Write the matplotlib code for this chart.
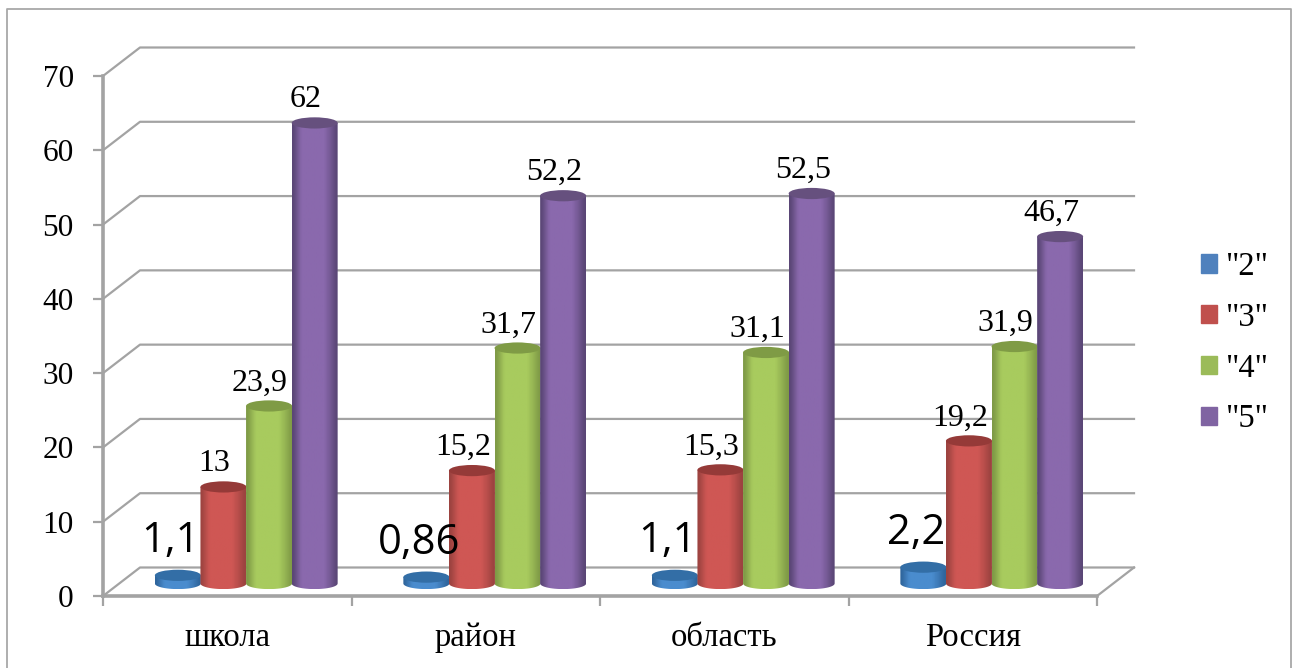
import numpy as np
import matplotlib
matplotlib.use("Agg")
import matplotlib.pyplot as plt
from matplotlib.colors import LinearSegmentedColormap
from matplotlib.patches import Ellipse, Patch, PathPatch
from matplotlib.lines import Line2D
from matplotlib.path import Path

categories = ["школа", "район", "область", "Россия"]
series_names = ['"2"', '"3"', '"4"', '"5"']
grade_2 = [1.1, 0.86, 1.1, 2.2]
grade_3 = [13, 15.2, 15.3, 19.2]
grade_4 = [23.9, 31.7, 31.1, 31.9]
grade_5 = [62, 52.2, 52.5, 46.7]
y_ticks = [0, 10, 20, 30, 40, 50, 60, 70]

# flat colour, then dark edge / lit middle / top cap of each cylinder
legend_colors = ["#4f81bd", "#c0504d", "#9bbb59", "#8064a2"]
shades = [
    ("#2f659c", "#4a8cce", "#336ea6"),
    ("#9c4340", "#cf5754", "#953a38"),
    ("#7f9a46", "#a8cb5e", "#7f9b45"),
    ("#5a4676", "#8a69ad", "#66507e"),
]

W, H = 1293, 668
GREY = "#a3a3a3"

fig = plt.figure(figsize=(W / 100, H / 100), dpi=100)
plt.rcParams["font.family"] = ["Liberation Serif", "DejaVu Serif"]

# outer chart frame, open at the bottom
fig.add_artist(Line2D([6.5 / W, 6.5 / W, 1291 / W, 1291 / W], [0, 1 - 8.5 / H, 1 - 8.5 / H, 0],
                      transform=fig.transFigure, color="#a8a8a8", lw=1.3))

left, right, top, bottom = 103, 1138, 48, 596
ax = fig.add_axes([left / W, 1 - bottom / H, (right - left) / W, (bottom - top) / H])

px_x = 248.5  # pixels per category
px_y = 520 / 70  # pixels per value unit
depth_x = 37 / px_x
depth_y = 28.5 / px_y

ax.set_xlim(0, (right - left) / px_x)
ax.set_ylim(0, (bottom - top) / px_y)
ax.patch.set_visible(False)

for v in y_ticks:
    ax.plot([0, depth_x, 4 + depth_x], [v, v + depth_y, v + depth_y], color=GREY, lw=1.6, zorder=1, clip_on=False)
ax.plot([4, 4 + depth_x], [0, depth_y], color=GREY, lw=1.6, zorder=1, clip_on=False)

for name in ["top", "right"]:
    ax.spines[name].set_visible(False)
for name in ["left", "bottom"]:
    ax.spines[name].set_color(GREY)
    ax.spines[name].set_linewidth(2.6)
ax.spines["left"].set_bounds(0, 70)
ax.spines["bottom"].set_bounds(0, 4)

ax.set_yticks(y_ticks)
ax.set_xticks(range(5))
ax.set_xticklabels([])
ax.set_xticks(np.arange(4) + 0.5, categories, minor=True)
ax.tick_params(axis="y", which="major", color=GREY, width=1.6, length=7, labelsize=22.5, pad=14)
ax.tick_params(axis="x", which="major", color=GREY, width=1.6, length=7, labelsize=22)
ax.tick_params(axis="x", which="minor", length=0, labelsize=23.5, pad=19)

bar_w = 46 / px_x
cap_h = 5.6 / px_y
base_y = 12.5 / px_y
shift_x = 19 / px_x


def cylinder(x, v, shade, z):
    edge, mid, cap = shade
    x0, x1 = x - bar_w / 2, x + bar_w / 2
    theta = np.linspace(np.pi, 2 * np.pi, 30)
    xs = x + bar_w / 2 * np.cos(theta)
    ys = base_y + cap_h * np.sin(theta)
    verts = np.vstack([[x0, base_y + v], np.column_stack([xs, ys]), [x1, base_y + v], [x0, base_y + v]])
    body = PathPatch(Path(verts), transform=ax.transData, fc="none", ec="none")
    ax.add_patch(body)
    cmap = LinearSegmentedColormap.from_list("c", [(0, edge), (0.2, mid), (0.72, mid), (1, edge)], N=64)
    im = ax.imshow(np.linspace(0, 1, 24).reshape(1, -1), cmap=cmap,
                   extent=[x0, x1, base_y - cap_h, base_y + v], aspect="auto", zorder=z, interpolation="bilinear")
    im.set_clip_path(body)
    ax.add_patch(Ellipse((x, base_y + v), bar_w, 2 * cap_h, fc=cap, ec="none", zorder=z + 0.1))


all_series = [grade_2, grade_3, grade_4, grade_5]
for j, values in enumerate(all_series):
    for i, v in enumerate(values):
        x = i + 0.5 + shift_x + (j - 1.5) * 45.6 / px_x
        cylinder(x, v, shades[j], 3 + j)
        text = f"{v:g}".replace(".", ",")
        if j == 0:
            ax.annotate(text, (x, base_y + v), xytext=(-7, 34), textcoords="offset pixels",
                        ha="center", va="center", fontsize=30, family="Open Sans", zorder=10)
        else:
            ax.annotate(text, (x, base_y + v), xytext=(-9, 23), textcoords="offset pixels",
                        ha="center", va="center", fontsize=23, zorder=10)

ax.set_xlim(0, (right - left) / px_x)
ax.set_ylim(0, (bottom - top) / px_y)

handles = [Patch(color=c, label=n) for c, n in zip(legend_colors, series_names)]
fig.legend(handles=handles, loc="center left", bbox_to_anchor=(1201 / W, 1 - 343 / H), frameon=False,
           fontsize=23.5, handlelength=0.49, handleheight=0.49, handletextpad=0.28, labelspacing=0.62,
           borderpad=0, borderaxespad=0)

fig.savefig("out.png", dpi=100)
